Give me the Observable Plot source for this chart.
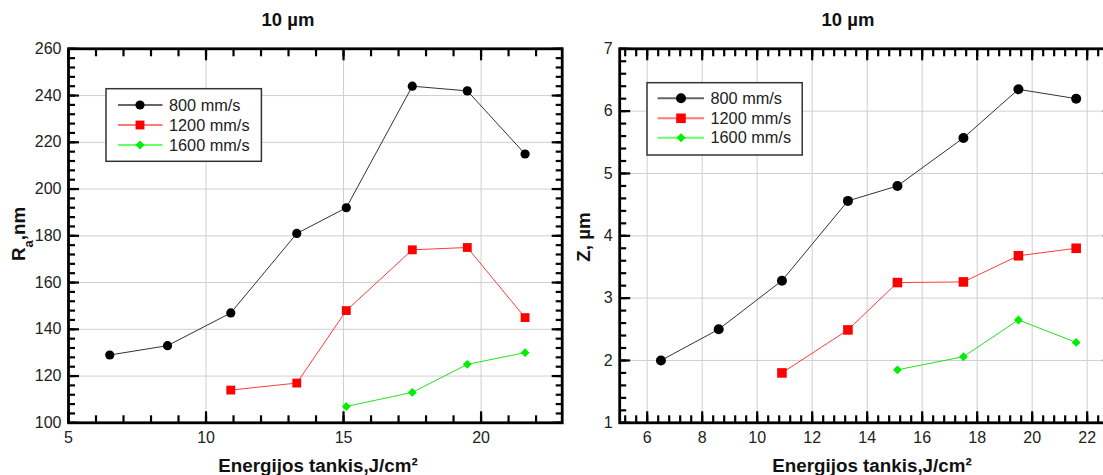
<!DOCTYPE html>
<html><head><meta charset="utf-8">
<script src="https://cdn.jsdelivr.net/npm/d3@7"></script>
<script src="https://cdn.jsdelivr.net/npm/@observablehq/plot@0.6"></script>
<style>
html,body{margin:0;padding:0;background:#fff;overflow:hidden;width:1103px;height:475px}
#wrap{position:relative;width:1103px;height:475px;overflow:hidden;font-family:"Liberation Sans",Arial,sans-serif}
.panel{position:absolute;top:0}
</style></head><body><div id="wrap"></div>
<script>
// ---- data ----
const speeds = ["800 mm/s", "1200 mm/s", "1600 mm/s"];
const markColors = ["#000000", "#ff0000", "#00ee00"];
const lineColors = ["#333333", "#ff3b3b", "#22e022"];
const legendLineColors = ["#666666", "#ff7a7a", "#66ff66"];
const symbols = ["circle", "square", "diamond2"];
const x800 = [6.5, 8.6, 10.9, 13.3, 15.1, 17.5, 19.5, 21.6];
const x1200 = [10.9, 13.3, 15.1, 17.5, 19.5, 21.6];
const x1600 = [15.1, 17.5, 19.5, 21.6];
const ra800 = [129, 133, 147, 181, 192, 244, 242, 215];
const ra1200 = [114, 117, 148, 174, 175, 145];
const ra1600 = [107, 113, 125, 130];
const z800 = [2.0, 2.5, 3.28, 4.56, 4.8, 5.57, 6.35, 6.2];
const z1200 = [1.8, 2.49, 3.25, 3.26, 3.68, 3.8];
const z1600 = [1.85, 2.06, 2.65, 2.29];
const panelTitle = "10 µm";
const xLabel = "Energijos tankis,J/cm²";
const raXMajor = [5, 10, 15, 20];
const raXMinor = d3.range(5, 23, 1);
const raYMajor = [100, 120, 140, 160, 180, 200, 220, 240, 260];
const raYMinor = d3.range(100, 261, 4);
const zXMajor = [6, 8, 10, 12, 14, 16, 18, 20, 22];
const zXMinor = d3.range(5.2, 23, 0.4).map(v => +v.toFixed(1));
const zYMajor = [1, 2, 3, 4, 5, 6, 7];
const zYMinor = d3.range(1, 7.01, 0.2).map(v => +v.toFixed(1));

const toRows = (xs, ys) => xs.map((x, i) => ({x, y: ys[i]}));

const FONT = `"Liberation Sans", Arial, sans-serif`;
const H = 475, PLOT_TOP = 48.3, PLOT_BOTTOM = 422.3;

function panel(cfg) {
  const marks = [
    Plot.gridX(cfg.xMajor, {stroke: "#cfcfcf", strokeOpacity: 1, strokeWidth: 1}),
    Plot.gridY(cfg.yMajor, {stroke: "#cfcfcf", strokeOpacity: 1, strokeWidth: 1}),
  ];
  cfg.series.forEach((s, i) => {
    marks.push(Plot.line(s, {x: "x", y: "y", stroke: lineColors[i], strokeWidth: 1}));
  });
  cfg.series.forEach((s, i) => {
    marks.push(Plot.dot(s, {x: "x", y: "y", symbol: symbols[i], r: cfg.radii[i], fill: markColors[i], stroke: "none"}));
  });
  // tick marks (inward) on all four sides
  for (const anchor of ["bottom", "top"]) {
    marks.push(Plot.axisX(cfg.xMajor, {anchor, tickSize: -11, strokeWidth: 2.2, stroke: "#000", fill: "none"}));
    marks.push(Plot.axisX(cfg.xMinor, {anchor, tickSize: -7, strokeWidth: 2.2, stroke: "#000", fill: "none"}));
  }
  for (const anchor of ["left", "right"]) {
    marks.push(Plot.axisY(cfg.yMajor, {anchor, tickSize: -11, strokeWidth: 2.2, stroke: "#000", fill: "none"}));
    marks.push(Plot.axisY(cfg.yMinor, {anchor, tickSize: -7, strokeWidth: 2.2, stroke: "#000", fill: "none"}));
  }
  // tick labels
  marks.push(Plot.axisX(cfg.xLabels, {anchor: "bottom", tickSize: 0, tickPadding: 9, fill: "#222", stroke: "none", fontSize: 16, label: null, tickFormat: d3.format("d")}));
  marks.push(Plot.axisY(cfg.yMajor, {anchor: "left", tickSize: 0, tickPadding: 7, fill: "#222", stroke: "none", fontSize: 16, label: null, tickFormat: d3.format("d")}));
  marks.push(Plot.frame({stroke: "#000", strokeWidth: 2.8}));

  const chart = Plot.plot({
    width: cfg.width, height: H,
    marginLeft: cfg.ml, marginRight: cfg.mr,
    marginTop: PLOT_TOP, marginBottom: H - PLOT_BOTTOM,
    style: {fontFamily: FONT, fontSize: "16px", background: "white", overflow: "visible"},
    x: {domain: cfg.xDomain},
    y: {domain: cfg.yDomain},
    marks
  });
  chart.classList.add("panel");
  chart.style.left = cfg.left + "px";
  const svg = d3.select(chart);

  // title
  svg.append("text").attr("x", cfg.titleX).attr("y", 20).attr("dy", "0.35em")
    .attr("text-anchor", "middle").attr("font-weight", "bold").attr("font-size", 18.5)
    .attr("fill", "#111").text(panelTitle);
  // x label
  svg.append("text").attr("x", cfg.xLabelX).attr("y", 465).attr("dy", "0.35em")
    .attr("text-anchor", "middle").attr("font-weight", "bold").attr("font-size", 18.8)
    .attr("fill", "#111").text(xLabel);
  // y label
  const yl = svg.append("text")
    .attr("transform", `translate(${cfg.yLabelX},${cfg.yLabelY}) rotate(-90)`)
    .attr("dy", "0.35em").attr("text-anchor", "middle").attr("font-weight", "bold")
    .attr("font-size", 18.8).attr("fill", "#111");
  cfg.yLabel(yl);

  // legend
  const L = cfg.legend;
  const g = svg.append("g").attr("text-anchor", "start");
  g.append("rect").attr("x", L.x).attr("y", L.y).attr("width", L.w).attr("height", L.h)
    .attr("fill", "white").attr("stroke", "#333").attr("stroke-width", 1.5);
  speeds.forEach((name, i) => {
    const cy = L.rowY[i];
    g.append("line").attr("x1", L.lx1).attr("x2", L.lx2).attr("y1", cy).attr("y2", cy)
      .attr("stroke", legendLineColors[i]).attr("stroke-width", 2);
    const symType = [d3.symbolCircle, d3.symbolSquare, d3.symbolDiamond2][i];
    const r = cfg.radii[i];
    g.append("path").attr("transform", `translate(${L.mx},${cy})`)
      .attr("d", d3.symbol(symType, Math.PI * r * r)()).attr("fill", markColors[i]);
    g.append("text").attr("x", L.tx).attr("y", cy).attr("dy", "0.35em")
      .attr("text-anchor", "start").attr("font-size", 16.3).attr("fill", "#222").text(name);
  });
  document.getElementById("wrap").appendChild(chart);
}

panel({
  left: 0, width: 570, ml: 68, mr: 8.3,
  xDomain: [5, 22.95], yDomain: [100, 260],
  xMajor: raXMajor, xMinor: raXMinor, xLabels: raXMajor,
  yMajor: raYMajor, yMinor: raYMinor,
  series: [toRows(x800, ra800), toRows(x1200, ra1200), toRows(x1600, ra1600)],
  radii: [4.6, 5, 4],
  titleX: 288, xLabelX: 318, yLabelX: 18, yLabelY: 234,
  yLabel: t => { t.append("tspan").text("R"); t.append("tspan").attr("baseline-shift", "sub").attr("font-size", 13).text("a"); t.append("tspan").text(",nm"); },
  legend: {x: 106, y: 88.7, w: 155.4, h: 72.6, rowY: [105, 125, 145], lx1: 118, lx2: 162.5, mx: 140, tx: 169}
});

const RL = 570;
panel({
  left: RL, width: 560, ml: 619.2 - RL, mr: RL + 560 - 1112.8,
  xDomain: [5, 22.95], yDomain: [1, 7],
  xMajor: zXMajor, xMinor: zXMinor, xLabels: zXMajor,
  yMajor: zYMajor, yMinor: zYMinor,
  series: [toRows(x800, z800), toRows(x1200, z1200), toRows(x1600, z1600)],
  radii: [5, 5.4, 4],
  titleX: 848 - RL, xLabelX: 872 - RL, yLabelX: 583 - RL, yLabelY: 237,
  yLabel: t => { t.text("Z, µm"); },
  legend: {x: 647 - RL, y: 82.7, w: 155.2, h: 72.3, rowY: [98.3, 118.3, 137.7], lx1: 657.6 - RL, lx2: 704 - RL, mx: 681 - RL, tx: 710.5 - RL}
});
</script></body></html>
